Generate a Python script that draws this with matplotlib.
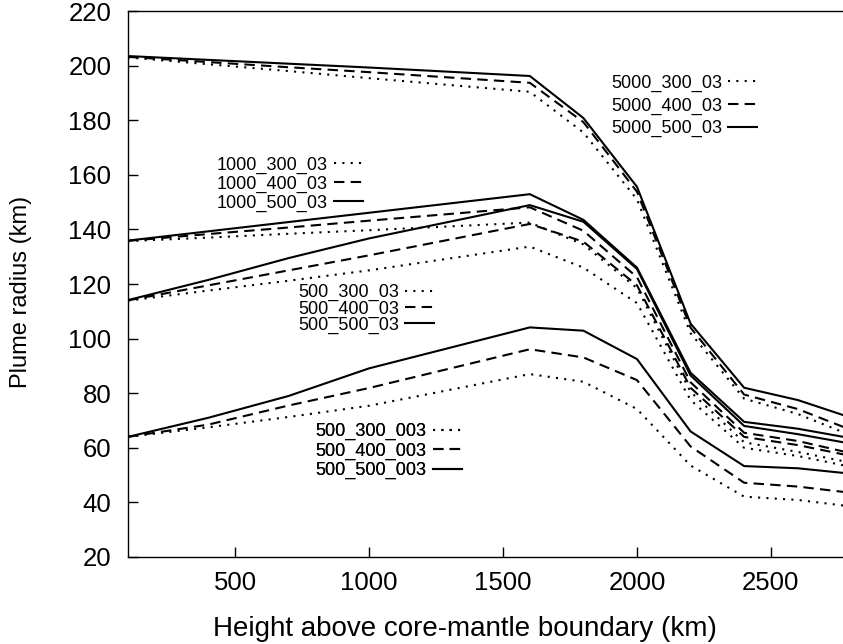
import matplotlib.pyplot as plt

plt.rcParams['font.family'] = ['Liberation Sans', 'DejaVu Sans']

# height above core-mantle boundary (km)
height = [100, 400, 700, 1000, 1600, 1800, 2000, 2200, 2400, 2600, 2800]

# plume radius (km)
r_5000_300_03 = [203.0, 200.5, 198.0, 195.4, 190.4, 175.5, 151.0, 102.0, 78.0, 72.4, 64.5]
r_5000_400_03 = [203.2, 201.3, 199.4, 197.6, 193.7, 179.3, 153.8, 104.0, 79.5, 74.2, 66.5]
r_5000_500_03 = [203.5, 202.1, 200.7, 199.3, 196.2, 180.8, 155.6, 105.5, 82.0, 77.5, 71.0]

r_1000_300_03 = [135.7, 137.0, 138.4, 139.7, 142.5, 134.5, 118.5, 80.5, 62.0, 58.5, 54.5]
r_1000_400_03 = [135.8, 138.3, 140.7, 143.2, 148.1, 139.5, 122.5, 84.0, 65.5, 62.5, 58.0]
r_1000_500_03 = [135.9, 139.3, 142.7, 146.1, 152.9, 143.5, 126.0, 87.5, 69.5, 67.0, 63.5]

r_500_300_03 = [113.9, 117.6, 121.2, 125.0, 133.7, 126.0, 113.0, 77.5, 60.0, 57.0, 53.0]
r_500_400_03 = [114.0, 119.5, 125.0, 130.5, 142.0, 135.5, 119.5, 82.0, 64.0, 61.0, 57.0]
r_500_500_03 = [114.1, 121.5, 129.5, 136.7, 148.9, 142.8, 125.5, 86.5, 68.0, 65.0, 61.5]

r_500_300_003 = [64.0, 67.5, 71.3, 75.4, 87.0, 84.2, 74.2, 53.5, 42.1, 40.9, 38.5]
r_500_400_003 = [64.0, 68.5, 75.5, 81.9, 96.1, 93.1, 84.8, 60.5, 47.2, 45.8, 43.5]
r_500_500_003 = [64.0, 71.0, 79.0, 89.1, 104.1, 102.9, 92.5, 66.0, 53.3, 52.5, 50.5]

dotted = (0, (1, 3))
dashed = (0, (5, 3))
solid = '-'

fig = plt.figure(figsize=(8.43, 6.44), dpi=100)
ax = fig.add_axes([0.1518, 0.1351, 0.8482, 0.8478])

# series, labels, legend anchor (axes fraction), row spacing
groups = [
    ([r_5000_300_03, r_5000_400_03, r_5000_500_03],
     ['5000_300_03', '5000_400_03', '5000_500_03'], (0.880, 0.826), 0.3),
    ([r_1000_300_03, r_1000_400_03, r_1000_500_03],
     ['1000_300_03', '1000_400_03', '1000_500_03'], (0.329, 0.683), 0.1),
    ([r_500_300_03, r_500_400_03, r_500_500_03],
     ['500_300_03', '500_400_03', '500_500_03'], (0.428, 0.454), -0.05),
    ([r_500_300_003, r_500_400_003, r_500_500_003],
     ['500_300_003', '500_400_003', '500_500_003'], (0.467, 0.194), 0.13),
]

for series, labels, anchor, spacing in groups:
    lines = []
    for vals, lab, ls in zip(series, labels, [dotted, dashed, solid]):
        ln, = ax.plot(height, vals, color='black', lw=1.5, linestyle=ls, label=lab)
        lines.append(ln)
    leg = ax.legend(handles=lines, loc='center right', bbox_to_anchor=anchor,
                    frameon=False, markerfirst=False, fontsize=13,
                    handlelength=1.6, handletextpad=0.35, borderpad=0,
                    borderaxespad=0, labelspacing=spacing)
    ax.add_artist(leg)

ax.set_xlim(100, 2769)
ax.set_ylim(20, 220)
ax.set_xticks([500, 1000, 1500, 2000, 2500])
ax.set_yticks(range(20, 221, 20))

ax.spines['right'].set_visible(False)
for s in ['left', 'bottom', 'top']:
    ax.spines[s].set_linewidth(1.0)

ax.tick_params(axis='both', direction='in', length=7, width=1.0, labelsize=18.5)
ax.tick_params(axis='x', pad=10)
ax.tick_params(axis='y', pad=12)

ax.set_xlabel('Height above core-mantle boundary (km)', fontsize=20)
ax.set_ylabel('Plume radius (km)', fontsize=17)
ax.xaxis.set_label_coords(0.471, -0.108)
ax.yaxis.set_label_coords(-0.134, 0.485)

plt.savefig('out.png', dpi=100)
